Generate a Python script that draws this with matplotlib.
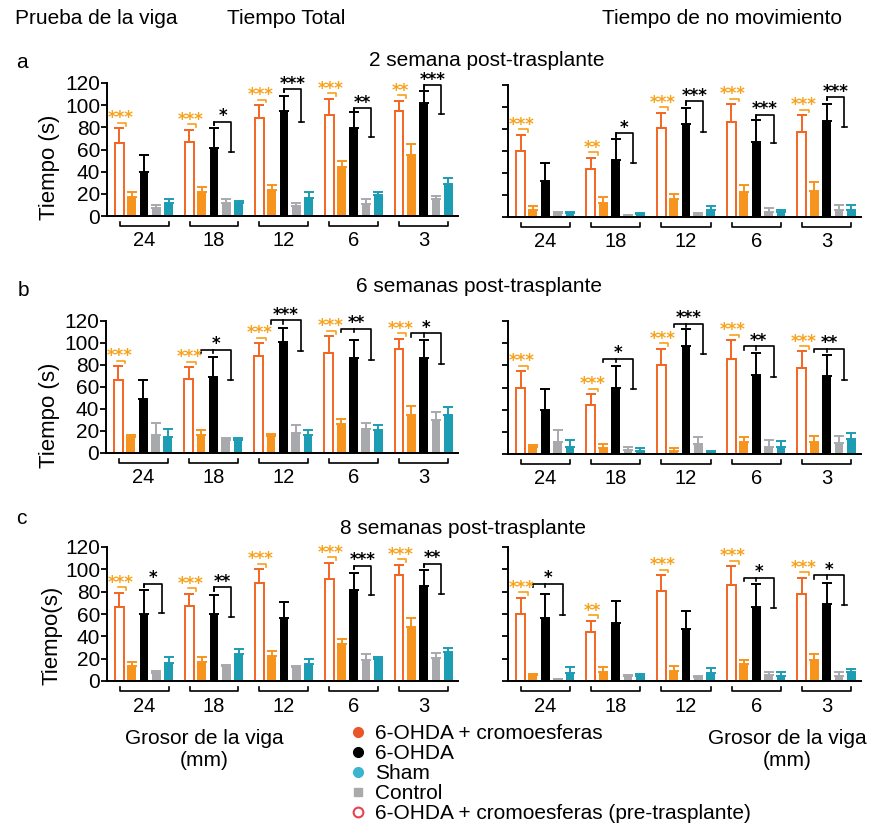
import numpy as np
import matplotlib.pyplot as plt
from matplotlib.lines import Line2D

plt.rcParams['font.family'] = ['Liberation Sans', 'DejaVu Sans']

groups = ['24', '18', '12', '6', '3']

# pre-trasplante (barras abiertas), mismo valor en a, b y c
pre_total = [66, 67, 88, 91, 95]
pre_total_err = [13, 11, 12, 15, 9]
pre_nomov = [60, 44, 80.5, 86, 77.5]
pre_nomov_err = [14.6, 10, 14.3, 16.7, 15]

# 6-OHDA + cromoesferas
crom_a_total = [17.5, 21.5, 23.5, 44.5, 55]
crom_a_total_err = [4.5, 4.5, 4.5, 5.5, 10]
crom_a_nomov = [6, 12.7, 16.3, 22.7, 23.3]
crom_a_nomov_err = [3.7, 5.3, 4.7, 6.6, 8.4]
crom_b_total = [15, 16, 15.7, 26.5, 34.7]
crom_b_total_err = [1.5, 4.5, 1.8, 4.5, 7.6]
crom_b_nomov = [6, 5, 3, 11, 11]
crom_b_nomov_err = [2, 4, 2, 4.6, 5]
crom_c_total = [13.7, 17.3, 22.6, 33, 48]
crom_c_total_err = [3, 4.4, 4.4, 4.5, 8.5]
crom_c_nomov = [5.4, 8.3, 9.2, 15.2, 18.8]
crom_c_nomov_err = [1.1, 3.9, 4.2, 3.6, 5.2]

# 6-OHDA
ohda_a_total = [39.5, 61, 95, 79, 102]
ohda_a_total_err = [15.5, 18, 13, 15, 11]
ohda_a_nomov = [33, 52, 84.6, 68.6, 87.3]
ohda_a_nomov_err = [16, 18.7, 14.2, 19.4, 15.7]
ohda_b_total = [49, 69, 100.7, 86, 86]
ohda_b_total_err = [17, 18.4, 13.3, 17, 16.7]
ohda_b_nomov = [40, 60, 97, 71, 70]
ohda_b_nomov_err = [19, 19, 16, 20, 19]
ohda_c_total = [59.6, 59.6, 56.6, 81.3, 85]
ohda_c_total_err = [21.7, 17.8, 14.3, 15.5, 14]
ohda_c_nomov = [56, 51.5, 47, 66.4, 68.8]
ohda_c_nomov_err = [22.3, 20, 15.8, 20.2, 19.2]

# Control
ctrl_a_total = [7, 11.5, 9, 11, 15]
ctrl_a_total_err = [3, 3.5, 2.5, 4, 3]
ctrl_a_nomov = [3.6, 1.2, 2, 4.5, 6.6]
ctrl_a_nomov_err = [1.4, 0.3, 1.6, 3.5, 4.4]
ctrl_b_total = [16.6, 11.5, 18, 22, 29.6]
ctrl_b_total_err = [10.4, 2.5, 7.6, 5.7, 7.3]
ctrl_b_nomov = [11, 3.6, 9, 6.6, 9.6]
ctrl_b_nomov_err = [10.6, 3, 6, 6, 6.4]
ctrl_c_total = [6.8, 13.4, 12.2, 18.8, 21]
ctrl_c_total_err = [2.2, 0.9, 1.2, 5.2, 3.7]
ctrl_c_nomov = [1, 4.8, 3.9, 5.4, 4.8]
ctrl_c_nomov_err = [0.8, 0.6, 0.6, 2.9, 2.9]

# Sham
sham_a_total = [11.5, 11.5, 16, 19, 29]
sham_a_total_err = [3.5, 2, 5.5, 2.5, 5]
sham_a_nomov = [3.6, 2.7, 6, 4.5, 6.6]
sham_a_nomov_err = [1.4, 0.9, 3.7, 2.1, 4.4]
sham_b_total = [15, 11.5, 16, 20.5, 34.7]
sham_b_total_err = [6.7, 2.5, 4.5, 5.1, 7]
sham_b_nomov = [6.6, 3, 2, 6, 13.5]
sham_b_nomov_err = [6, 2.7, 1, 5.7, 5.5]
sham_c_total = [15.8, 23.8, 14.9, 19.4, 25.6]
sham_c_total_err = [5.9, 4.5, 4.5, 2.3, 3.9]
sham_c_nomov = [6.8, 4.8, 6.8, 4.8, 7.7]
sham_c_nomov_err = [5.4, 1.2, 4.5, 3.5, 2.7]

# significancia pre vs cromoesferas (naranja)
sig_pre_a_total = ['***', '***', '***', '***', '**']
sig_pre_a_nomov = ['***', '**', '***', '***', '***']
sig_pre_b_total = ['***', '***', '***', '***', '***']
sig_pre_b_nomov = ['***', '***', '***', '***', '***']
sig_pre_c_total = ['***', '***', '***', '***', '***']
sig_pre_c_nomov = ['***', '**', '***', '***', '***']

# significancia 6-OHDA: (estrellas, altura del corchete, final de la pata derecha)
sig_ohda_a_total = [None, ('*', 85, 58), ('***', 114.5, 85), ('**', 97, 71), ('***', 118, 92)]
sig_ohda_a_nomov = [None, ('*', 76, 49), ('***', 105, 77), ('***', 93, 67), ('***', 109, 82)]
sig_ohda_b_total = [None, ('*', 94, 66), ('***', 120.6, 93), ('**', 113, 85), ('*', 108.8, 81)]
sig_ohda_b_nomov = [None, ('*', 86, 58.5), ('***', 117.6, 90.6), ('**', 97, 69.6), ('**', 95, 67)]
sig_ohda_c_total = [('*', 87, 60.5), ('**', 84, 57.5), None, ('***', 103, 76.8), ('**', 105, 78)]
sig_ohda_c_nomov = [('*', 87.3, 59), None, None, ('*', 92.6, 65.8), ('*', 94.7, 68)]

C_PRE = '#F26522'
C_CROM = '#F7941D'
C_OHDA = '#000000'
C_CTRL = '#A7A9AC'
C_SHAM = '#1C9DB3'
C_STAR = '#F7A21B'
STAR_FONT = ['DejaVu Sans']

W, H = 870, 824
fig = plt.figure(figsize=(W / 100, H / 100), dpi=100)


def rect(x, y, w, h):
    return [x / W, 1 - (y + h) / H, w / W, h / H]


def draw_panel(ax, pre, pre_err, crom, crom_err, ohda, ohda_err, ctrl, ctrl_err,
               sham, sham_err, sig_pre, sig_ohda, from_crom, show_labels):
    x = np.arange(len(groups))
    off = np.array([-2, -1, 0, 1, 2]) * 0.176
    w = 0.125
    series = [(pre, pre_err, C_PRE), (crom, crom_err, C_CROM), (ohda, ohda_err, C_OHDA),
              (ctrl, ctrl_err, C_CTRL), (sham, sham_err, C_SHAM)]
    for k, (m, e, c) in enumerate(series):
        if k == 0:
            ax.bar(x + off[k], m, width=w, facecolor='white', edgecolor=c, linewidth=1.4)
        else:
            ax.bar(x + off[k], m, width=w, color=c)
        ax.errorbar(x + off[k], m, yerr=[np.zeros(len(m)), e], fmt='none', ecolor=c,
                    elinewidth=1.4, capsize=3.5, capthick=1.4)

    for i in x:
        # naranja
        top = pre[i] + pre_err[i]
        xo = i + off[0]
        ax.plot([xo - 0.02, xo + 0.1, xo + 0.1], [top + 5, top + 5, top + 2.5],
                color=C_STAR, lw=1.2, clip_on=False)
        ax.text(xo + 0.02, top + 9, sig_pre[i], color=C_STAR, fontsize=12,
                family=STAR_FONT, fontweight='bold', ha='center', va='center')
        # negro
        s = sig_ohda[i]
        if s is not None:
            stars, h, end = s
            xb = i + off[2]
            xr = i + 0.25
            xl = i + off[1] if from_crom else xb
            ax.plot([xl, xl, xr, xr], [h - 3, h, h, end], color='black', lw=1.2, clip_on=False)
            ax.plot([xb, xb], [h, h - 3], color='black', lw=1.2, clip_on=False)
            ax.plot([xr - 0.035, xr + 0.035], [end, end], color='black', lw=1.2, clip_on=False)
            ax.text((xl + xr) / 2, h + 5, stars, color='black', fontsize=12,
                    family=STAR_FONT, fontweight='bold', ha='center', va='center')
        # corchete del grupo
        ax.plot([i - 0.35, i - 0.35, i + 0.35, i + 0.35], [-5.5, -9, -9, -5.5],
                color='black', lw=1.2, clip_on=False)
        ax.text(i, -22.5, groups[i], fontsize=14.5, ha='center', va='center')

    ax.set_xlim(-0.53, 4.49)
    ax.set_ylim(0, 120)
    ax.set_yticks(range(0, 121, 20))
    ax.set_xticks([])
    for sp in ['top', 'right']:
        ax.spines[sp].set_visible(False)
    ax.spines['left'].set_linewidth(1.4)
    ax.spines['bottom'].set_linewidth(1.4)
    ax.tick_params(axis='y', direction='out', length=4, width=1.3, pad=1,
                   labelsize=15, labelleft=show_labels)
    ax.patch.set_alpha(0)


rows = [
    ('a', rect(107, 83, 351, 133), rect(508, 85, 353, 132)),
    ('b', rect(106, 321, 352, 132), rect(508, 321, 353, 133)),
    ('c', rect(107, 547, 351, 134), rect(508, 547, 353, 134)),
]
data = globals()
from_crom_flags = {'a': (False, False), 'b': (True, True), 'c': (False, True)}
for letter, rl, rr in rows:
    for side, r, meas in [(0, rl, 'total'), (1, rr, 'nomov')]:
        ax = fig.add_axes(r)
        key = f'{letter}_{meas}'
        pre = pre_total if meas == 'total' else pre_nomov
        pre_err = pre_total_err if meas == 'total' else pre_nomov_err
        draw_panel(ax, pre, pre_err,
                   data['crom_' + key], data['crom_' + key + '_err'],
                   data['ohda_' + key], data['ohda_' + key + '_err'],
                   data['ctrl_' + key], data['ctrl_' + key + '_err'],
                   data['sham_' + key], data['sham_' + key + '_err'],
                   data['sig_pre_' + key], data['sig_ohda_' + key],
                   from_crom_flags[letter][side], side == 0)


def ftext(x, y, s, **kw):
    fig.text(x / W, 1 - y / H, s, **kw)


ftext(15, 18, 'Prueba de la viga', fontsize=15, va='center', ha='left')
ftext(227, 18, 'Tiempo Total', fontsize=15, va='center', ha='left')
ftext(602, 18, 'Tiempo de no movimiento', fontsize=15, va='center', ha='left')

ftext(16, 62, 'a', fontsize=15, va='center')
ftext(18, 290, 'b', fontsize=15, va='center')
ftext(16, 518, 'c', fontsize=15, va='center')
ftext(487, 60, '2 semana post-trasplante', fontsize=15, va='center', ha='center')
ftext(479, 287, '6 semanas post-trasplante', fontsize=15, va='center', ha='center')
ftext(463, 528, '8 semanas post-trasplante', fontsize=15, va='center', ha='center')

ftext(50, 167, 'Tiempo (s)', fontsize=16, rotation=90, va='center', ha='center')
ftext(50, 415, 'Tiempo (s)', fontsize=16, rotation=90, va='center', ha='center')
ftext(52, 635, 'Tiempo(s)', fontsize=16, rotation=90, va='center', ha='center')

ftext(204, 749, 'Grosor de la viga\n(mm)', fontsize=15, va='center', ha='center',
      multialignment='center', linespacing=1.2)
ftext(787, 749, 'Grosor de la viga\n(mm)', fontsize=15, va='center', ha='center',
      multialignment='center', linespacing=1.2)

handles = [
    Line2D([], [], marker='o', ls='none', color='#E8562A', markersize=7),
    Line2D([], [], marker='o', ls='none', color='black', markersize=7),
    Line2D([], [], marker='o', ls='none', color='#3BB5CE', markersize=7),
    Line2D([], [], marker='s', ls='none', color='#AAAAAA', markersize=6),
    Line2D([], [], marker='o', ls='none', markerfacecolor='white', markeredgecolor='#E8424F',
           markeredgewidth=1.5, markersize=7),
]
labels = ['6-OHDA + cromoesferas', '6-OHDA', 'Sham', 'Control',
          '6-OHDA + cromoesferas (pre-trasplante)']
fig.legend(handles, labels, loc='upper left', bbox_to_anchor=(350 / W, 1 - 724 / H),
           frameon=False, fontsize=15, handlelength=0.8, handletextpad=0.4,
           labelspacing=0.05, borderpad=0, borderaxespad=0)

fig.savefig('out.png', dpi=100)
